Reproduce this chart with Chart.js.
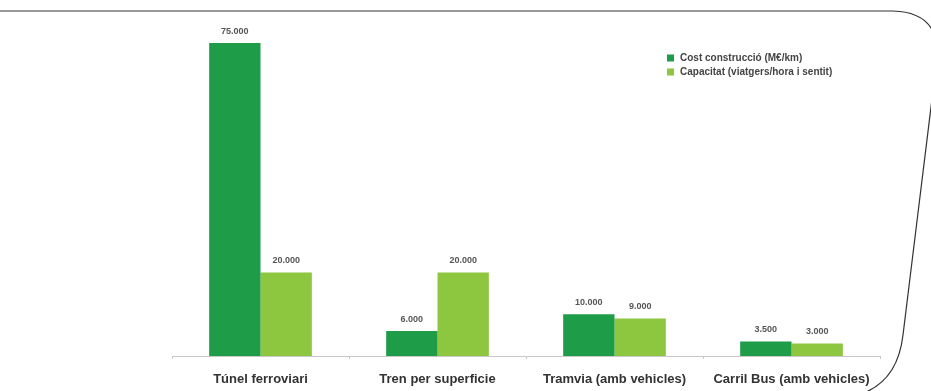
<!DOCTYPE html>
<html>
<head>
<meta charset="utf-8">
<script src="https://cdn.jsdelivr.net/npm/chart.js@4.4.1/dist/chart.umd.min.js"></script>
<style>
  html, body { margin: 0; padding: 0; background: #fff; }
  #wrap { position: relative; width: 931px; height: 391px; }
</style>
</head>
<body>
<div id="wrap"><canvas id="chart" width="931" height="391"></canvas></div>
<script>
const categories = ['Túnel ferroviari', 'Tren per superficie', 'Tramvia (amb vehicles)', 'Carril Bus (amb vehicles)'];
const costLabel = 'Cost construcció (M€/km)';
const capLabel = 'Capacitat (viatgers/hora i sentit)';
const costValues = [75000, 6000, 10000, 3500];
const capValues = [20000, 20000, 9000, 3000];

const DARK = '#1e9c48';
const LIGHT = '#8dc63f';
const FONT = '"Liberation Sans", Arial, sans-serif';

// 75000 -> "75.000"
const fmt = (v) => String(v).replace(/\B(?=(\d{3})+(?!\d))/g, '.');

// value above each bar
const valueLabels = {
  id: 'valueLabels',
  afterDatasetsDraw(chart) {
    const ctx = chart.ctx;
    ctx.save();
    ctx.font = 'bold 9px ' + FONT;
    ctx.fillStyle = '#555';
    ctx.textAlign = 'center';
    ctx.textBaseline = 'bottom';
    chart.data.datasets.forEach((ds, i) => {
      chart.getDatasetMeta(i).data.forEach((bar, j) => {
        ctx.fillText(fmt(ds.data[j]), bar.x, bar.y - 7);
      });
    });
    ctx.restore();
  }
};

// legend in the top right corner of the plot
const cornerLegend = {
  id: 'cornerLegend',
  afterDraw(chart) {
    const ctx = chart.ctx;
    ctx.save();
    ctx.font = 'bold 10px ' + FONT;
    ctx.textBaseline = 'middle';
    chart.data.datasets.forEach((ds, i) => {
      const y = 58 + i * 14;
      ctx.fillStyle = ds.backgroundColor;
      ctx.fillRect(667, y - 3.5, 7, 7);
      ctx.fillStyle = '#444';
      ctx.fillText(ds.label, 680, y);
    });
    ctx.restore();
  }
};

// rounded page frame behind the chart
const frame = {
  id: 'frame',
  beforeDraw(chart) {
    const ctx = chart.ctx;
    ctx.save();
    ctx.strokeStyle = '#333';
    ctx.lineWidth = 1.2;
    ctx.beginPath();
    ctx.moveTo(0, 11);
    ctx.lineTo(893, 11);
    ctx.quadraticCurveTo(935, 12, 938, 50);
    ctx.lineTo(903, 335);
    ctx.quadraticCurveTo(898, 378, 866, 392);
    ctx.stroke();
    ctx.restore();
  }
};

new Chart(document.getElementById('chart'), {
  type: 'bar',
  data: {
    labels: categories,
    datasets: [
      { label: costLabel, data: costValues, backgroundColor: DARK },
      { label: capLabel, data: capValues, backgroundColor: LIGHT }
    ]
  },
  options: {
    responsive: false,
    animation: false,
    devicePixelRatio: 1,
    layout: { padding: { left: 172, right: 51, top: 22, bottom: 0 } },
    datasets: { bar: { categoryPercentage: 0.58, barPercentage: 1.0 } },
    plugins: { legend: { display: false }, tooltip: { enabled: false } },
    scales: {
      x: {
        grid: { drawOnChartArea: false, drawTicks: true, tickLength: 3, color: '#c8c8c8', offset: true },
        border: { display: true, color: '#c8c8c8' },
        ticks: {
          color: '#333',
          font: { family: FONT, size: 13, weight: 'bold' },
          padding: 13,
          maxRotation: 0,
          autoSkip: false
        },
        afterFit(scale) { scale.height = 35; }
      },
      y: { display: false, min: 0, max: 80000 }
    }
  },
  plugins: [frame, valueLabels, cornerLegend]
});
</script>
</body>
</html>
